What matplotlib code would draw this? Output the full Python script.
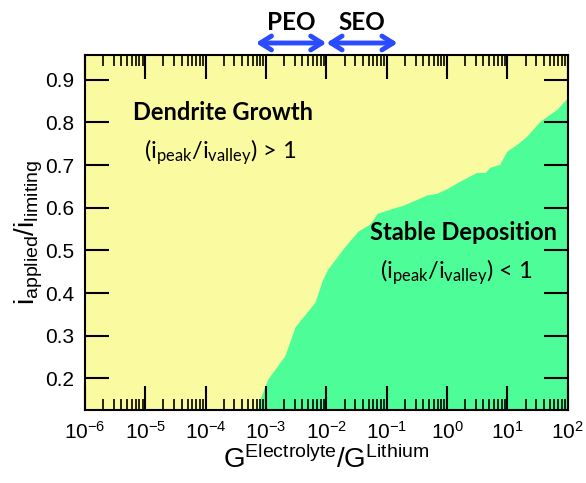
import numpy as np
import matplotlib
matplotlib.use('Agg')
import matplotlib.pyplot as plt
from matplotlib.ticker import LogLocator, NullFormatter

plt.rcParams['font.family'] = ['Liberation Sans', 'DejaVu Sans']
plt.rcParams['mathtext.default'] = 'regular'

# boundary between dendrite growth (upper left) and stable deposition (lower right)
bound_logx = [-3.135, -3.10, -2.97, -2.69, -2.52, -2.19, -2.06, -1.98, -1.69, -1.48,
              -1.28, -1.16, -0.90, -0.73, -0.53, -0.34, -0.17, 0.01, 0.18, 0.49,
              0.63, 0.71, 0.87, 0.99, 1.16, 1.32, 1.54, 1.82, 2.0]
bound_y = [0.126, 0.152, 0.199, 0.253, 0.321, 0.379, 0.433, 0.456, 0.510, 0.545,
           0.562, 0.587, 0.599, 0.606, 0.618, 0.630, 0.634, 0.646, 0.660, 0.683,
           0.683, 0.695, 0.702, 0.733, 0.749, 0.768, 0.803, 0.831, 0.859]

# conductivity ranges of the two electrolytes (log10)
peo_range = (-3.17, -2.0)
seo_range = (-2.0, -0.82)

yellow = '#FAFAA0'
green = '#4DFD98'
ymin, ymax = 0.126, 0.958

fig = plt.figure(figsize=(5.86, 4.83), dpi=100)
ax = fig.add_axes([0.145, 0.151, 0.824, 0.735])
ax.set_facecolor(yellow)

bx = 10 ** np.array(bound_logx)
ax.fill_between(bx, ymin, bound_y, color=green, lw=0)
ax.fill_between([bx[-1], 1e3], ymin, [bound_y[-1], bound_y[-1]], color=green, lw=0)

ax.set_xscale('log')
ax.set_xlim(1e-6, 1e2)
ax.set_ylim(ymin, ymax)
ax.set_xticks([10.0 ** k for k in range(-6, 3)])
ax.xaxis.set_minor_locator(LogLocator(base=10, subs=np.arange(2, 10), numticks=100))
ax.xaxis.set_minor_formatter(NullFormatter())
ax.set_yticks([0.2, 0.3, 0.4, 0.5, 0.6, 0.7, 0.8, 0.9])
ax.set_yticklabels(['0.2', '0.3', '0.4', '0.5', '0.6', '0.7', '0.8', '0.9'])
ax.tick_params(which='major', direction='in', length=17, width=1.5, top=True, right=True,
               labelsize=15, pad=8)
ax.tick_params(which='minor', direction='in', length=8, width=1.2, top=True, right=True)
ax.tick_params(axis='y', which='minor', left=False, right=False)
for s in ax.spines.values():
    s.set_linewidth(1.5)

ax.set_xlabel('$G^{Electrolyte}/G^{Lithium}$', fontsize=20, labelpad=2)
ax.set_ylabel('$i_{applied}/i_{limiting}$', fontsize=20, labelpad=0)

txt = dict(family=['Lato', 'DejaVu Sans'], ha='center', va='center', transform=ax.transAxes)
ax.text(0.286, 0.839, 'Dendrite Growth', fontsize=17, fontweight='bold', **txt)
ax.text(0.280, 0.727, '$(i_{peak}/i_{valley})$ > 1', fontsize=17, **txt)
ax.text(0.783, 0.501, 'Stable Deposition', fontsize=17, fontweight='bold', **txt)
ax.text(0.770, 0.389, '$(i_{peak}/i_{valley})$ < 1', fontsize=17, **txt)

arrow = dict(arrowstyle='<->,head_length=0.8,head_width=0.5', color='#2A4BFF', lw=3.5,
             shrinkA=0, shrinkB=0)
for rng, name in [(peo_range, 'PEO'), (seo_range, 'SEO')]:
    ax.annotate('', xy=(10 ** rng[0], 1.034), xytext=(10 ** rng[1], 1.034),
                xycoords=('data', 'axes fraction'), textcoords=('data', 'axes fraction'),
                arrowprops=arrow, annotation_clip=False)
    mid = 10 ** ((rng[0] + rng[1]) / 2)
    ax.text(mid, 1.093, name, transform=ax.get_xaxis_transform(), ha='center', va='center',
            fontsize=17.5, fontweight='bold', family=['Lato', 'DejaVu Sans'])

fig.savefig('out.png', dpi=100)
